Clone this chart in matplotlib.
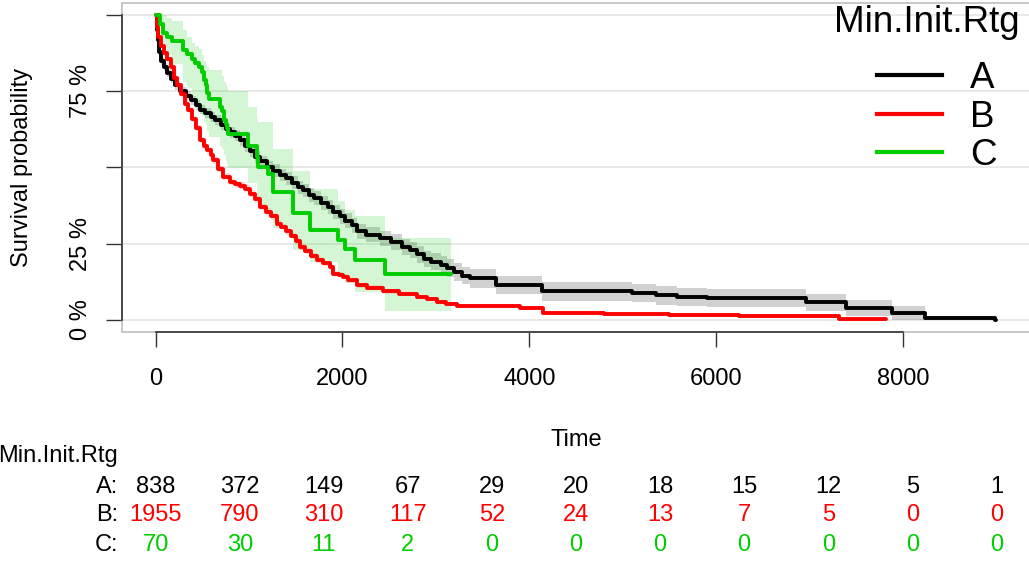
import numpy as np
import matplotlib
matplotlib.use("Agg")
import matplotlib.pyplot as plt
from matplotlib.lines import Line2D
from matplotlib.patches import Rectangle
from matplotlib.transforms import blended_transform_factory

plt.rcParams['font.family'] = ['Liberation Sans', 'DejaVu Sans']

GROUPS = ["A", "B", "C"]
COLORS = ["black", "#FF0000", "#00CD00"]

# group A (Kaplan-Meier steps)
a_time = [0, 10, 25, 40, 60, 90, 120, 160, 210, 260, 320, 380, 430, 480, 530,
          590, 640, 700, 750, 800, 850, 900, 960, 1010, 1060, 1120, 1190, 1260,
          1330, 1400, 1460, 1520, 1580, 1640, 1700, 1770, 1840, 1900, 1970, 2030,
          2100, 2160, 2250, 2400, 2520, 2640, 2720, 2800, 2870, 2950, 3050, 3120,
          3190, 3280, 3370, 3640, 4140, 5100, 5360, 5580, 5900, 6960, 7390, 7880,
          8240, 8990]
a_surv = [1.0, 0.95, 0.92, 0.88, 0.85, 0.83, 0.81, 0.79, 0.77, 0.75, 0.735, 0.72,
          0.705, 0.69, 0.68, 0.665, 0.655, 0.64, 0.625, 0.615, 0.605, 0.59, 0.57,
          0.555, 0.535, 0.52, 0.50, 0.49, 0.475, 0.465, 0.45, 0.435, 0.425, 0.41,
          0.40, 0.385, 0.37, 0.355, 0.34, 0.325, 0.31, 0.29, 0.28, 0.267, 0.255,
          0.24, 0.23, 0.215, 0.20, 0.19, 0.18, 0.17, 0.158, 0.145, 0.136, 0.114,
          0.093, 0.087, 0.08, 0.075, 0.071, 0.057, 0.038, 0.022, 0.005, 0.0]
a_err = [0.0, 0.01, 0.012, 0.012, 0.013, 0.013, 0.014, 0.014, 0.015, 0.015, 0.015,
         0.015, 0.016, 0.016, 0.016, 0.016, 0.017, 0.017, 0.017, 0.018, 0.018,
         0.018, 0.018, 0.019, 0.019, 0.019, 0.02, 0.02, 0.02, 0.021, 0.021, 0.021,
         0.022, 0.022, 0.022, 0.023, 0.023, 0.023, 0.024, 0.024, 0.025, 0.025,
         0.025, 0.026, 0.026, 0.026, 0.027, 0.027, 0.027, 0.028, 0.028, 0.028,
         0.029, 0.029, 0.03, 0.03, 0.03, 0.03, 0.03, 0.03, 0.03, 0.028, 0.026,
         0.022, 0.0, 0.0]
a_end = 9000

# group B
b_time = [0, 10, 30, 60, 90, 120, 160, 200, 230, 270, 310, 350, 390, 430, 476,
          520, 547, 590, 618, 670, 720, 797, 850, 900, 960, 1011, 1060, 1118,
          1180, 1230, 1296, 1340, 1400, 1450, 1500, 1545, 1600, 1660, 1724, 1790,
          1866, 1902, 1960, 2009, 2060, 2152, 2260, 2437, 2600, 2793, 2900, 3007,
          3110, 3221, 3900, 4150, 4800, 5500, 6250, 7320]
b_surv = [1.0, 0.96, 0.93, 0.90, 0.875, 0.855, 0.83, 0.795, 0.77, 0.74, 0.71,
          0.69, 0.66, 0.63, 0.59, 0.57, 0.556, 0.54, 0.523, 0.495, 0.47, 0.452,
          0.445, 0.44, 0.43, 0.414, 0.395, 0.37, 0.355, 0.34, 0.316, 0.305, 0.29,
          0.275, 0.26, 0.24, 0.225, 0.21, 0.196, 0.185, 0.174, 0.152, 0.148,
          0.142, 0.13, 0.114, 0.106, 0.093, 0.085, 0.076, 0.068, 0.06, 0.052,
          0.046, 0.038, 0.024, 0.02, 0.015, 0.011, 0.003]
b_err = [0.0, 0.005, 0.006, 0.007, 0.008, 0.008, 0.009, 0.009, 0.009, 0.01, 0.01,
         0.01, 0.01, 0.011, 0.011, 0.011, 0.011, 0.011, 0.011, 0.011, 0.011,
         0.011, 0.011, 0.011, 0.011, 0.011, 0.011, 0.011, 0.011, 0.011, 0.011,
         0.011, 0.011, 0.01, 0.01, 0.01, 0.01, 0.01, 0.01, 0.009, 0.009, 0.009,
         0.008, 0.008, 0.008, 0.008, 0.007, 0.007, 0.007, 0.006, 0.006, 0.006,
         0.005, 0.005, 0.005, 0.004, 0.004, 0.003, 0.003, 0.002]
b_end = 7820

# group C
c_time = [0, 45, 75, 120, 180, 290, 340, 390, 420, 460, 500, 520, 540, 555,
          570, 690, 710, 730, 750, 765, 779, 993, 1082, 1100, 1207, 1260, 1474,
          1652, 1955, 2027, 2134, 2455]
c_surv = [1.0, 0.971, 0.943, 0.929, 0.914, 0.886, 0.871, 0.857, 0.843, 0.829,
          0.814, 0.786, 0.771, 0.743, 0.724, 0.70, 0.686, 0.657, 0.643, 0.629,
          0.61, 0.572, 0.534, 0.501, 0.479, 0.419, 0.349, 0.294, 0.261, 0.232,
          0.196, 0.15]
c_lo = [1.0, 0.93, 0.90, 0.87, 0.84, 0.78, 0.76, 0.73, 0.71, 0.69, 0.67, 0.65,
        0.64, 0.62, 0.60, 0.57, 0.56, 0.54, 0.52, 0.51, 0.50, 0.45, 0.40, 0.37,
        0.35, 0.30, 0.23, 0.19, 0.14, 0.12, 0.09, 0.03]
c_hi = [1.0, 1.0, 1.0, 0.99, 0.98, 0.95, 0.93, 0.91, 0.90, 0.89, 0.87, 0.85,
        0.84, 0.83, 0.82, 0.82, 0.80, 0.78, 0.77, 0.76, 0.75, 0.70, 0.66, 0.65,
        0.65, 0.56, 0.49, 0.43, 0.39, 0.36, 0.34, 0.27]
c_end = 3160

# numbers at risk
risk_times = [0, 900, 1800, 2700, 3600, 4500, 5400, 6300, 7200, 8100, 9000]
risk_a = [838, 372, 149, 67, 29, 20, 18, 15, 12, 5, 1]
risk_b = [1955, 790, 310, 117, 52, 24, 13, 7, 5, 0, 0]
risk_c = [70, 30, 11, 2, 0, 0, 0, 0, 0, 0, 0]


def stairs(t, v, end):
    return np.append(t, end), np.append(v, v[-1])


W, H = 1029, 561
fig = plt.figure(figsize=(W / 100, H / 100), dpi=100)
ax = fig.add_axes([122 / W, 1 - 332 / H, 908 / W, 329 / H])

# confidence bands
a_s = np.array(a_surv)
a_e = np.array(a_err)
x, lo = stairs(a_time, np.clip(a_s - a_e, 0, 1), a_end)
_, hi = stairs(a_time, np.clip(a_s + a_e, 0, 1), a_end)
ax.fill_between(x, lo, hi, step="post", color="black", alpha=0.18, lw=0, zorder=2)

b_s = np.array(b_surv)
b_e = np.array(b_err)
x, lo = stairs(b_time, np.clip(b_s - b_e, 0, 1), b_end)
_, hi = stairs(b_time, np.clip(b_s + b_e, 0, 1), b_end)
ax.fill_between(x, lo, hi, step="post", color=COLORS[1], alpha=0.15, lw=0, zorder=2)

x, lo = stairs(c_time, c_lo, c_end)
_, hi = stairs(c_time, c_hi, c_end)
ax.fill_between(x, lo, hi, step="post", color=COLORS[2], alpha=0.17, lw=0, zorder=2)

# survival curves
for t, s, end, col in [(a_time, a_surv, a_end, COLORS[0]),
                       (b_time, b_surv, b_end, COLORS[1]),
                       (c_time, c_surv, c_end, COLORS[2])]:
    x, y = stairs(t, s, end)
    ax.plot(x, y, drawstyle="steps-post", color=col, lw=2.8, zorder=3,
            solid_capstyle="round")

ax.set_xlim(-360, 9360)
ax.set_ylim(-0.04, 1.04)
ax.set_xticks([0, 2000, 4000, 6000, 8000])
ax.set_yticks([0, 0.25, 0.5, 0.75, 1.0], ["0 %", "25 %", "", "75 %", ""])
for lab in ax.get_yticklabels():
    lab.set_rotation(90)
    lab.set_va("center")
ax.tick_params(axis="x", length=10.8, width=1.0, color="#333333", pad=15,
               labelsize=17)
ax.tick_params(axis="y", length=11.5, width=1.0, color="#333333", pad=10,
               labelsize=17)
ax.grid(axis="y", color="#E3E3E3", lw=1.1)
ax.set_axisbelow(True)

for side in ["top", "right"]:
    ax.spines[side].set_visible(False)
ax.spines["left"].set_bounds(0, 1)
ax.spines["bottom"].set_bounds(0, 8000)
for side in ["left", "bottom"]:
    ax.spines[side].set_color("#333333")
    ax.spines[side].set_linewidth(1.2)
ax.add_patch(Rectangle((0, 0), 1, 1, transform=ax.transAxes, fill=False,
                       edgecolor="#BEBEBE", lw=1.2, clip_on=False, zorder=2.4))

ax.set_xlabel("Time", fontsize=17, labelpad=28)
ax.set_ylabel("Survival probability", fontsize=17, labelpad=27)

# legend
handles = [Line2D([], [], color=c, lw=3) for c in COLORS]
ax.legend(handles, GROUPS, loc="upper right",
          bbox_to_anchor=(997 / W, 1 - 61 / H), bbox_transform=fig.transFigure,
          frameon=False, fontsize=26.5, handlelength=1.77, handletextpad=0.76,
          labelspacing=0.1, borderpad=0, borderaxespad=0)
fig.text(1020 / W, 1 - 22 / H, "Min.Init.Rtg", ha="right", va="center",
         fontsize=26.5)

# risk table
tr = blended_transform_factory(ax.transData, fig.transFigure)
fig.text(-2 / W, 1 - 456 / H, "Min.Init.Rtg", ha="left", va="center", fontsize=17)
rows = [(risk_a, 487), (risk_b, 515), (risk_c, 545)]
for (vals, ypix), name, col in zip(rows, GROUPS, COLORS):
    yf = 1 - ypix / H
    fig.text(118 / W, yf, name + ":", ha="right", va="center", fontsize=17)
    for t, v in zip(risk_times, vals):
        ax.text(t, yf, str(v), transform=tr, ha="center", va="center",
                fontsize=17, color=col, clip_on=False)

fig.savefig("out.png", dpi=100)
